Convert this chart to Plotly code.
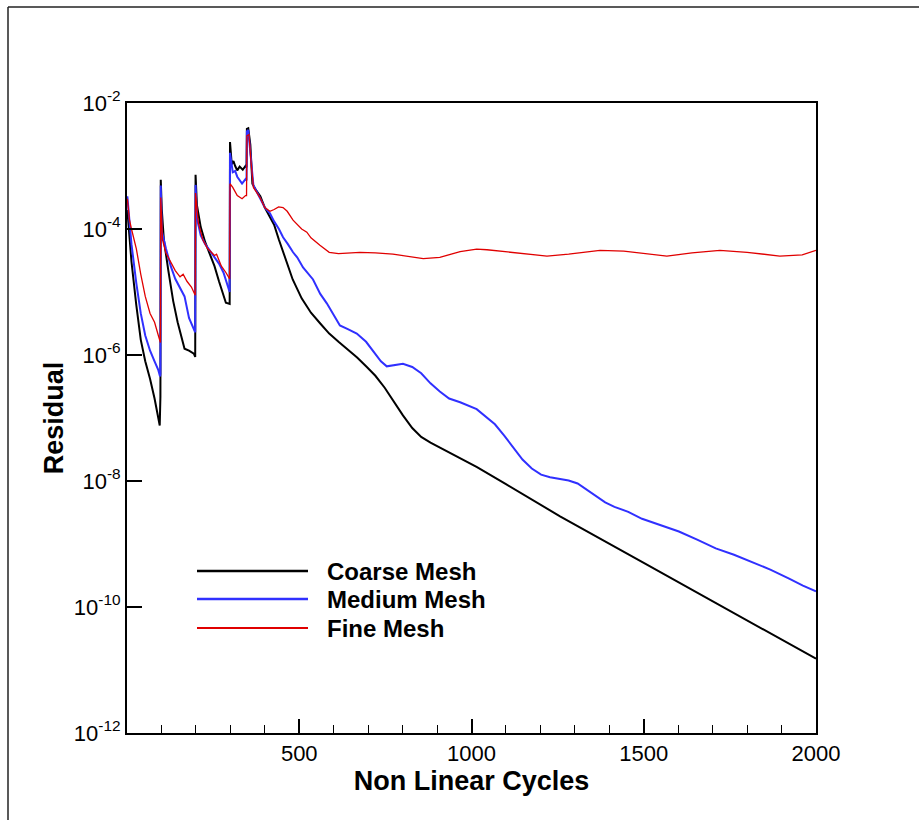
import plotly.graph_objects as go

# ---------------- data ----------------
coarse_cycles = [1, 13, 27, 40, 53, 67, 80, 91, 95, 97, 98, 101, 107, 120, 134, 147, 160, 167, 180, 194, 198,
                 199, 203, 214, 227, 240, 254, 267, 280, 287, 298,
                 299, 304, 309, 314, 320, 327, 336, 344, 347,
                 348, 352, 358, 364, 374, 387, 400, 414, 427, 441, 454, 467, 481, 507, 534, 561, 587, 614,
                 641, 668, 694, 721, 748, 774, 801, 828, 854, 881, 908, 946, 988, 1016, 1100, 1257, 1500,
                 1750, 2000]
coarse_residual = [2.0e-4, 3.02e-5, 6.17e-6, 1.74e-6, 7.94e-7, 4.17e-7, 2.04e-7, 9.33e-8, 7.59e-8, 2.19e-7,
                   6.03e-4, 2.04e-4, 6.76e-5, 2.19e-5, 7.24e-6, 3.31e-6, 1.74e-6, 1.26e-6, 1.17e-6, 1.05e-6,
                   9.33e-7,
                   7.24e-4, 2.40e-4, 1.07e-4, 6.17e-5, 4.17e-5, 2.57e-5, 1.48e-5, 9.33e-6, 6.76e-6, 6.46e-6,
                   2.40e-3, 1.07e-3, 1.20e-3, 1.00e-3, 8.51e-4, 9.77e-4, 8.71e-4, 1.00e-3, 9.55e-4,
                   3.89e-3, 3.98e-3, 2.19e-3, 5.25e-4, 4.17e-4, 3.31e-4, 2.19e-4, 1.62e-4, 1.17e-4, 6.76e-5,
                   4.17e-5, 2.57e-5, 1.58e-5, 7.94e-6, 4.68e-6, 3.16e-6, 2.19e-6, 1.62e-6, 1.23e-6, 9.12e-7,
                   6.61e-7, 4.68e-7, 3.02e-7, 1.82e-7, 1.10e-7, 6.92e-8, 5.01e-8, 4.07e-8, 3.39e-8, 2.63e-8,
                   2.0e-8, 1.66e-8, 8.91e-9, 2.75e-9, 5.01e-10, 8.71e-11, 1.51e-11]

medium_cycles = [1, 13, 27, 40, 53, 67, 80, 91, 96, 97, 98, 101, 113, 127, 140, 154, 167, 180, 194, 198,
                 199, 203, 214, 227, 240, 254, 267, 280, 290, 298,
                 299, 307, 314, 320, 334, 344, 347,
                 348, 352, 360, 367, 374, 387, 400, 415, 427, 441, 453, 467, 482, 494, 511, 540, 561, 580,
                 600, 618, 641, 667, 694, 714, 737, 754, 774, 801, 828, 854, 881, 908, 935, 967, 1015, 1041,
                 1068, 1095, 1121, 1148, 1175, 1202, 1228, 1255, 1282, 1308, 1335, 1362, 1388, 1415, 1455,
                 1495, 1549, 1602, 1655, 1709, 1762, 1816, 1869, 1922, 1962, 2000]
medium_residual = [3.31e-4, 5.75e-5, 1.38e-5, 4.57e-6, 2.04e-6, 1.17e-6, 7.94e-7, 5.75e-7, 4.57e-7, 5.01e-7,
                   4.90e-4, 9.33e-5, 4.90e-5, 2.57e-5, 1.62e-5, 1.17e-5, 8.51e-6, 3.89e-6, 2.57e-6, 2.29e-6,
                   5.01e-4, 1.48e-4, 7.94e-5, 5.75e-5, 4.57e-5, 3.55e-5, 2.82e-5, 2.04e-5, 1.41e-5, 1.0e-5,
                   1.62e-3, 7.94e-4, 8.32e-4, 6.76e-4, 5.25e-4, 6.17e-4, 5.89e-4,
                   3.55e-3, 3.72e-3, 1.17e-3, 4.90e-4, 4.17e-4, 3.02e-4, 2.19e-4, 1.78e-4, 1.32e-4, 1.0e-4,
                   7.41e-5, 5.75e-5, 4.27e-5, 3.55e-5, 2.45e-5, 1.58e-5, 9.33e-6, 6.61e-6, 4.37e-6, 2.95e-6,
                   2.57e-6, 2.19e-6, 1.62e-6, 1.17e-6, 7.94e-7, 6.61e-7, 6.92e-7, 7.24e-7, 6.46e-7, 5.13e-7,
                   3.55e-7, 2.63e-7, 2.04e-7, 1.78e-7, 1.38e-7, 1.05e-7, 7.94e-8, 5.25e-8, 3.47e-8, 2.19e-8,
                   1.58e-8, 1.26e-8, 1.15e-8, 1.07e-8, 1.02e-8, 9.12e-9, 7.24e-9, 5.62e-9, 4.57e-9, 3.89e-9,
                   3.24e-9, 2.51e-9, 2.0e-9, 1.58e-9, 1.17e-9, 8.51e-10, 6.76e-10, 5.13e-10, 3.89e-10,
                   2.82e-10, 2.19e-10, 1.78e-10]

fine_cycles = [1, 7, 13, 20, 27, 40, 53, 67, 80, 91, 96, 97, 98, 103, 113, 127, 140, 154, 163, 174, 187, 198,
               199, 207, 220, 234, 247, 254, 260, 274, 287, 298,
               299, 307, 320, 334, 344, 347,
               348, 354, 360, 367, 374, 386, 400, 415, 427, 440, 453, 465, 482, 507, 522, 534, 560, 587,
               614, 676, 721, 772, 860, 908, 967, 1015, 1045, 1141, 1219, 1282, 1373, 1442, 1522, 1567,
               1640, 1721, 1800, 1895, 1960, 2000]
fine_residual = [3.02e-4, 1.41e-4, 1.0e-4, 7.08e-5, 4.90e-5, 1.91e-5, 8.51e-6, 4.57e-6, 3.31e-6, 2.04e-6,
                 1.58e-6, 1.58e-6, 3.16e-4, 6.76e-5, 4.17e-5, 3.02e-5, 2.19e-5, 1.74e-5, 1.91e-5, 1.48e-5,
                 1.20e-5, 8.91e-6,
                 3.72e-4, 1.26e-4, 6.76e-5, 4.90e-5, 4.17e-5, 3.80e-5, 3.98e-5, 2.57e-5, 2.04e-5, 1.62e-5,
                 5.25e-4, 4.57e-4, 3.39e-4, 3.02e-4, 3.39e-4, 3.39e-4,
                 3.02e-3, 3.16e-3, 1.17e-3, 4.57e-4, 3.98e-4, 3.16e-4, 2.19e-4, 1.91e-4, 2.04e-4, 2.24e-4,
                 2.19e-4, 1.91e-4, 1.38e-4, 1.0e-4, 8.91e-5, 7.24e-5, 5.50e-5, 4.27e-5, 4.07e-5, 4.27e-5,
                 4.17e-5, 3.98e-5, 3.39e-5, 3.55e-5, 4.37e-5, 4.79e-5, 4.68e-5, 4.07e-5, 3.72e-5, 3.98e-5,
                 4.57e-5, 4.47e-5, 3.98e-5, 3.72e-5, 4.17e-5, 4.57e-5, 4.27e-5, 3.72e-5, 3.89e-5, 4.57e-5]

series_names = ["Coarse Mesh", "Medium Mesh", "Fine Mesh"]
series_colors = ["#000000", "#3030ff", "#e00000"]
series_widths = [2.0, 2.0, 1.3]

x_tick_values = [500, 1000, 1500, 2000]
y_tick_values = [1e-12, 1e-10, 1e-8, 1e-6, 1e-4, 1e-2]
y_tick_labels = ["10<sup>-12</sup>", "10<sup>-10</sup>", "10<sup>-8</sup>",
                 "10<sup>-6</sup>", "10<sup>-4</sup>", "10<sup>-2</sup>"]

# ---------------- figure ----------------
W, H = 919, 820
ML, MR, MT, MB = 127, 103, 103, 87
PW, PH = W - ML - MR, H - MT - MB


def px_x(px):
    return (px - ML) / PW


def px_y(py):
    return (H - MB - py) / PH


fig = go.Figure()
all_x = [coarse_cycles, medium_cycles, fine_cycles]
all_y = [coarse_residual, medium_residual, fine_residual]
for xs, ys, name, col, lw in zip(all_x, all_y, series_names, series_colors, series_widths):
    fig.add_trace(go.Scatter(x=xs, y=ys, mode="lines", name=name,
                             line=dict(color=col, width=lw), showlegend=False))

font_family = "Liberation Sans, Arial, sans-serif"

fig.update_layout(
    width=W, height=H,
    margin=dict(l=ML, r=MR, t=MT, b=MB, pad=0),
    paper_bgcolor="white", plot_bgcolor="white",
    font=dict(family=font_family, color="black"),
    xaxis=dict(
        range=[0, 2000], showgrid=False, zeroline=False,
        showline=True, linecolor="black", linewidth=2, mirror=True,
        ticks="inside", ticklen=14, tickwidth=1.5, tickcolor="black",
        tickmode="array", tickvals=x_tick_values,
        tickfont=dict(size=22, family=font_family),
        minor=dict(ticks="inside", ticklen=8, tickwidth=1.2, tickcolor="black",
                   tick0=0, dtick=100, showgrid=False),
        title=dict(text="<b>Non Linear Cycles</b>", font=dict(size=27, family=font_family), standoff=4),
    ),
    yaxis=dict(
        type="log", range=[-12, -2], showgrid=False, zeroline=False,
        showline=True, linecolor="black", linewidth=2, mirror=True,
        ticks="inside", ticklen=15, tickwidth=1.5, tickcolor="black",
        tickmode="array", tickvals=y_tick_values, ticktext=y_tick_labels,
        tickfont=dict(size=22, family=font_family),
        title=dict(text="<b>Residual</b>", font=dict(size=27, family=font_family), standoff=2),
    ),
)

# outer frame (top and left edges)
fig.add_shape(type="line", xref="paper", yref="paper",
              x0=px_x(8), x1=px_x(W + 5), y0=px_y(7), y1=px_y(7),
              line=dict(color="#222222", width=1.5))
fig.add_shape(type="line", xref="paper", yref="paper",
              x0=px_x(8), x1=px_x(8), y0=px_y(7), y1=px_y(H + 5),
              line=dict(color="#222222", width=1.5))

# legend drawn inside the plot
legend_rows_px = [571, 599, 628]
for name, col, lw, ry in zip(series_names, series_colors, series_widths, legend_rows_px):
    fig.add_shape(type="line", xref="paper", yref="paper",
                  x0=px_x(197), x1=px_x(308), y0=px_y(ry), y1=px_y(ry),
                  line=dict(color=col, width=lw + 0.5))
    fig.add_annotation(xref="paper", yref="paper", x=px_x(325), y=px_y(ry),
                       xanchor="left", yanchor="middle", showarrow=False,
                       text="<b>" + name + "</b>",
                       font=dict(size=24, family=font_family, color="black"))

fig.write_html("out.html")
